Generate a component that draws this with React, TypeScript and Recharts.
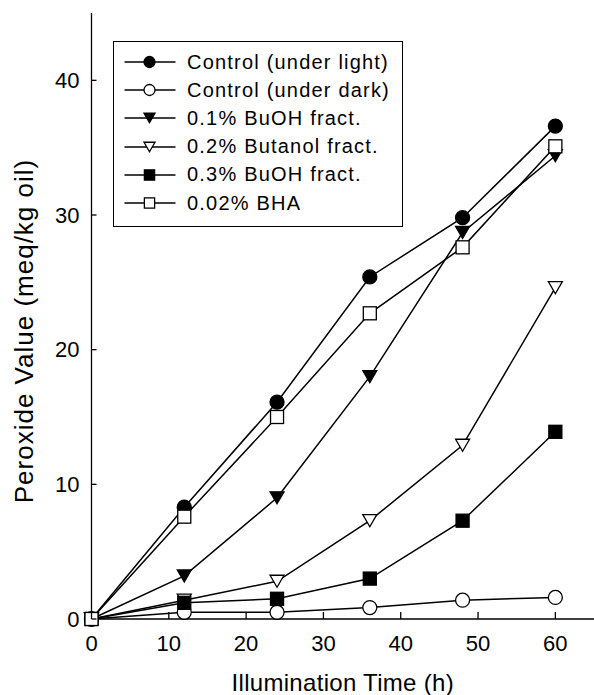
import React from 'react';
import { LineChart, Line, XAxis, YAxis, Legend } from 'recharts';

// illumination time (h)
const hours = [0, 12, 24, 36, 48, 60];

// peroxide value (meq/kg oil)
const controlLight = [0, 8.3, 16.1, 25.4, 29.8, 36.6];
const controlDark = [0, 0.5, 0.5, 0.85, 1.4, 1.6];
const buoh01 = [0, 3.2, 9.0, 18.0, 28.7, 34.4];
const butanol02 = [0, 1.4, 2.8, 7.3, 12.9, 24.6];
const buoh03 = [0, 1.2, 1.5, 3.0, 7.3, 13.9];
const bha = [0, 7.6, 15.0, 22.7, 27.6, 35.1];

const xTicks = [0, 10, 20, 30, 40, 50, 60];
const yTicks = [0, 10, 20, 30, 40];

const FONT = '"Liberation Sans", Arial, Helvetica, sans-serif';

type Shape = 'circle' | 'triangle' | 'square';

const series: { key: string; name: string; values: number[]; shape: Shape; filled: boolean }[] = [
  { key: 'controlLight', name: 'Control (under light)', values: controlLight, shape: 'circle', filled: true },
  { key: 'controlDark', name: 'Control (under dark)', values: controlDark, shape: 'circle', filled: false },
  { key: 'buoh01', name: '0.1% BuOH fract.', values: buoh01, shape: 'triangle', filled: true },
  { key: 'butanol02', name: '0.2% Butanol fract.', values: butanol02, shape: 'triangle', filled: false },
  { key: 'buoh03', name: '0.3% BuOH fract.', values: buoh03, shape: 'square', filled: true },
  { key: 'bha', name: '0.02% BHA', values: bha, shape: 'square', filled: false },
];

const data = hours.map((h, i) => {
  const row: Record<string, number> = { hour: h };
  series.forEach((s) => {
    row[s.key] = s.values[i];
  });
  return row;
});

function Marker({ shape, filled, cx, cy, size }: { shape: Shape; filled: boolean; cx: number; cy: number; size: number }) {
  const fill = filled ? '#000' : '#fff';
  const sw = 1.3;
  if (shape === 'circle') {
    return <circle cx={cx} cy={cy} r={size / 2} fill={fill} stroke="#000" strokeWidth={sw} />;
  }
  if (shape === 'square') {
    const s = size * 0.93;
    return <rect x={cx - s / 2} y={cy - s / 2} width={s} height={s} fill={fill} stroke="#000" strokeWidth={sw} />;
  }
  const h = size * 0.86;
  const pts = `${cx - size / 2},${cy - h / 2} ${cx + size / 2},${cy - h / 2} ${cx},${cy + h / 2}`;
  return <polygon points={pts} fill={fill} stroke="#000" strokeWidth={sw} />;
}

// ticks point inward, so draw the tick line ourselves
const XTick = (p: any) => (
  <g>
    <line x1={p.x} y1={p.y - 16} x2={p.x} y2={p.y - 23} stroke="#000" strokeWidth={1.3} />
    <text x={p.x} y={p.y} dy="0.71em" textAnchor="middle" fontFamily={FONT} fontSize={22} fill="#000">
      {p.payload.value}
    </text>
  </g>
);

const YTick = (p: any) => (
  <g>
    <line x1={p.x + 12} y1={p.y} x2={p.x + 17} y2={p.y} stroke="#000" strokeWidth={1.3} />
    <text x={p.x} y={p.y} dy="0.355em" textAnchor="end" fontFamily={FONT} fontSize={22} fill="#000">
      {p.payload.value}
    </text>
  </g>
);

const renderLegend = () => (
  <div
    style={{
      border: '1.5px solid #000',
      width: 290,
      height: 186,
      boxSizing: 'border-box',
      background: '#fff',
      paddingTop: 6,
      fontFamily: FONT,
      fontSize: 20,
      letterSpacing: 1.2,
      color: '#000',
    }}
  >
    {series.map((s) => (
      <div key={s.key} style={{ display: 'flex', alignItems: 'center', height: 28.2 }}>
        <svg width={73} height={20} style={{ display: 'block' }}>
          <line x1={10.5} y1={10} x2={61.5} y2={10} stroke="#000" strokeWidth={1.5} />
          <Marker shape={s.shape} filled={s.filled} cx={35.5} cy={10} size={11} />
        </svg>
        <span style={{ whiteSpace: 'nowrap' }}>{s.name}</span>
      </div>
    ))}
  </div>
);

export default function App() {
  return (
    <div style={{ position: 'absolute', left: 0, top: 0, width: 594, height: 695, background: '#fff' }}>
      <LineChart width={594} height={695} data={data} margin={{ top: 13, right: 0, bottom: 0, left: 0 }}>
        <XAxis
          type="number"
          dataKey="hour"
          domain={[0, 65]}
          ticks={xTicks}
          height={76}
          stroke="#000"
          strokeWidth={1.3}
          tickLine={false}
          tickSize={0}
          tickMargin={16}
          tick={XTick}
          label={{
            content: (p: any) => {
              const vb = p.viewBox || { x: 91.5, width: 502.5 };
              return (
                <text x={vb.x + vb.width / 2} y={691} textAnchor="middle" fontFamily={FONT} fontSize={24} letterSpacing={0.3} fill="#000">
                  Illumination Time (h)
                </text>
              );
            },
          }}
        />
        <YAxis
          type="number"
          domain={[0, 45]}
          ticks={yTicks}
          width={91.5}
          stroke="#000"
          strokeWidth={1.3}
          tickLine={false}
          tickSize={0}
          tickMargin={12}
          tick={YTick}
          label={{
            content: () => (
              <text x={33} y={331} transform="rotate(-90 33 331)" textAnchor="middle" fontFamily={FONT} fontSize={26} letterSpacing={1} fill="#000">
                Peroxide Value (meq/kg oil)
              </text>
            ),
          }}
        />
        <Legend
          layout="vertical"
          align="center"
          verticalAlign="middle"
          content={renderLegend}
          wrapperStyle={{ left: 113, top: 41, width: 290, height: 186 }}
        />
        {series.map((s) => (
          <Line
            key={s.key}
            type="linear"
            dataKey={s.key}
            name={s.name}
            stroke="#000"
            strokeWidth={1.5}
            isAnimationActive={false}
            activeDot={false}
            dot={(p: any) => (
              <Marker key={`${s.key}-${p.index}`} shape={s.shape} filled={s.filled} cx={p.cx} cy={p.cy} size={14} />
            )}
          />
        ))}
      </LineChart>
    </div>
  );
}
